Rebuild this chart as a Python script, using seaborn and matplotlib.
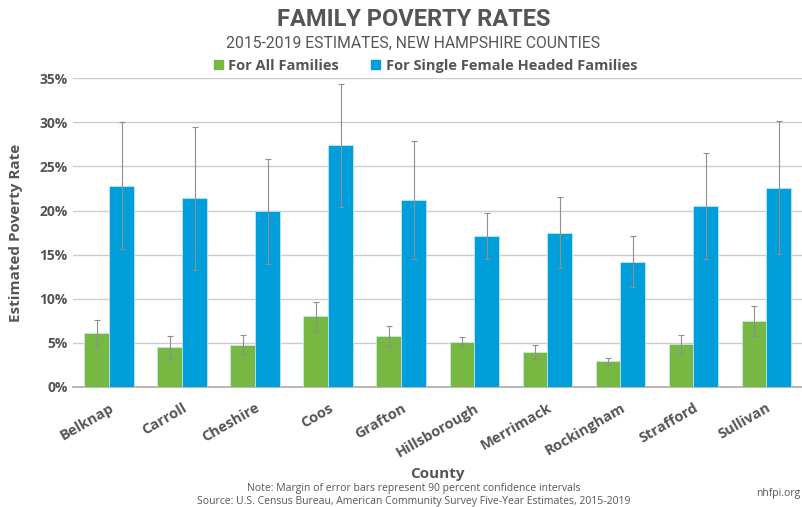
import matplotlib
matplotlib.use("Agg")
import matplotlib.pyplot as plt
import numpy as np
import pandas as pd
import seaborn as sns

counties = ["Belknap", "Carroll", "Cheshire", "Coos", "Grafton", "Hillsborough",
            "Merrimack", "Rockingham", "Strafford", "Sullivan"]
all_families = [6.1, 4.5, 4.8, 8.0, 5.8, 5.1, 4.0, 2.9, 4.9, 7.5]
all_moe = [1.5, 1.3, 1.1, 1.6, 1.1, 0.6, 0.8, 0.4, 1.0, 1.7]
single_female = [22.8, 21.4, 19.9, 27.4, 21.2, 17.1, 17.5, 14.2, 20.5, 22.6]
single_moe = [7.2, 8.1, 6.0, 7.0, 6.7, 2.6, 4.0, 2.9, 6.0, 7.5]
series = ["For All Families", "For Single Female Headed Families"]
colors = ["#77b843", "#009fdc"]

df = pd.DataFrame({
    "County": counties * 2,
    "Series": [series[0]] * 10 + [series[1]] * 10,
    "Rate": all_families + single_female,
    "MOE": all_moe + single_moe,
})

sns.set_style("white")
plt.rcParams["font.family"] = ["Open Sans", "DejaVu Sans"]
grey = "#555555"

fig = plt.figure(figsize=(8.03, 5.07), dpi=100)
ax = fig.add_axes([0.0905, 0.2367, 0.9095, 0.609])

sns.barplot(data=df, x="County", y="Rate", hue="Series", palette=colors,
            saturation=1, width=0.68, errorbar=None, ax=ax, legend=False, zorder=3,
            edgecolor="#c9ebf7", linewidth=0.5)

# error bars at the centre of each bar drawn by seaborn
for container, (_, grp) in zip(ax.containers, df.groupby("Series", sort=False)):
    xs = [p.get_x() + p.get_width() / 2 for p in container.patches]
    ax.errorbar(xs, grp["Rate"].values, yerr=grp["MOE"].values, fmt="none",
                ecolor="#8f8f8f", elinewidth=0.8, capsize=2, capthick=0.8, zorder=4)

ax.set_ylim(0, 35)
ax.set_xlim(-0.5, 9.5)
ax.set_yticks(np.arange(0, 36, 5))
ax.set_yticklabels([f"{v}%" for v in range(0, 36, 5)])
ax.yaxis.grid(True, color="#cccccc", linewidth=1, zorder=0)
sns.despine(ax=ax, left=True, top=True, right=True)
ax.spines["bottom"].set_color("#aaaaaa")
ax.spines["bottom"].set_linewidth(1.2)
ax.tick_params(axis="both", length=0, colors=grey)
for t in ax.get_yticklabels():
    t.set_fontsize(10)
    t.set_fontweight("bold")
ax.set_xticks(range(len(counties)))
ax.set_xticklabels(counties, rotation=30, ha="right", rotation_mode="anchor",
                   fontsize=10.5, fontweight="bold", color=grey)
ax.tick_params(axis="x", pad=10)
ax.set_xlabel("County", fontsize=11, fontweight="bold", color=grey, labelpad=5)
ax.set_ylabel("Estimated Poverty Rate", fontsize=11, fontweight="bold", color=grey, labelpad=12)

fig.text(0.515, 0.962, "FAMILY POVERTY RATES", ha="center", va="center",
         fontsize=17, fontweight="bold", color=grey, family=["Roboto", "DejaVu Sans"])
fig.text(0.515, 0.915, "2015-2019 ESTIMATES, NEW HAMPSHIRE COUNTIES", ha="center", va="center",
         fontsize=11.3, color=grey, family=["Roboto", "DejaVu Sans"])

handles = [plt.Rectangle((0, 0), 1, 1, color=c) for c in colors]
fig.legend(handles, series, loc="center", bbox_to_anchor=(0.53, 0.87), ncol=2, frameon=False,
           handlelength=0.6, handleheight=0.6, handletextpad=0.4, columnspacing=2.2,
           prop={"size": 10.5, "weight": "bold"}, labelcolor=grey)

fig.text(0.515, 0.037, "Note: Margin of error bars represent 90 percent confidence intervals",
         ha="center", va="center", fontsize=7.5, color=grey)
fig.text(0.515, 0.011, "Source: U.S. Census Bureau, American Community Survey Five-Year Estimates, 2015-2019",
         ha="center", va="center", fontsize=7.5, color=grey)
fig.text(0.997, 0.027, "nhfpi.org", ha="right", va="center", fontsize=7.5, color=grey)

fig.savefig("out.png", dpi=100)
